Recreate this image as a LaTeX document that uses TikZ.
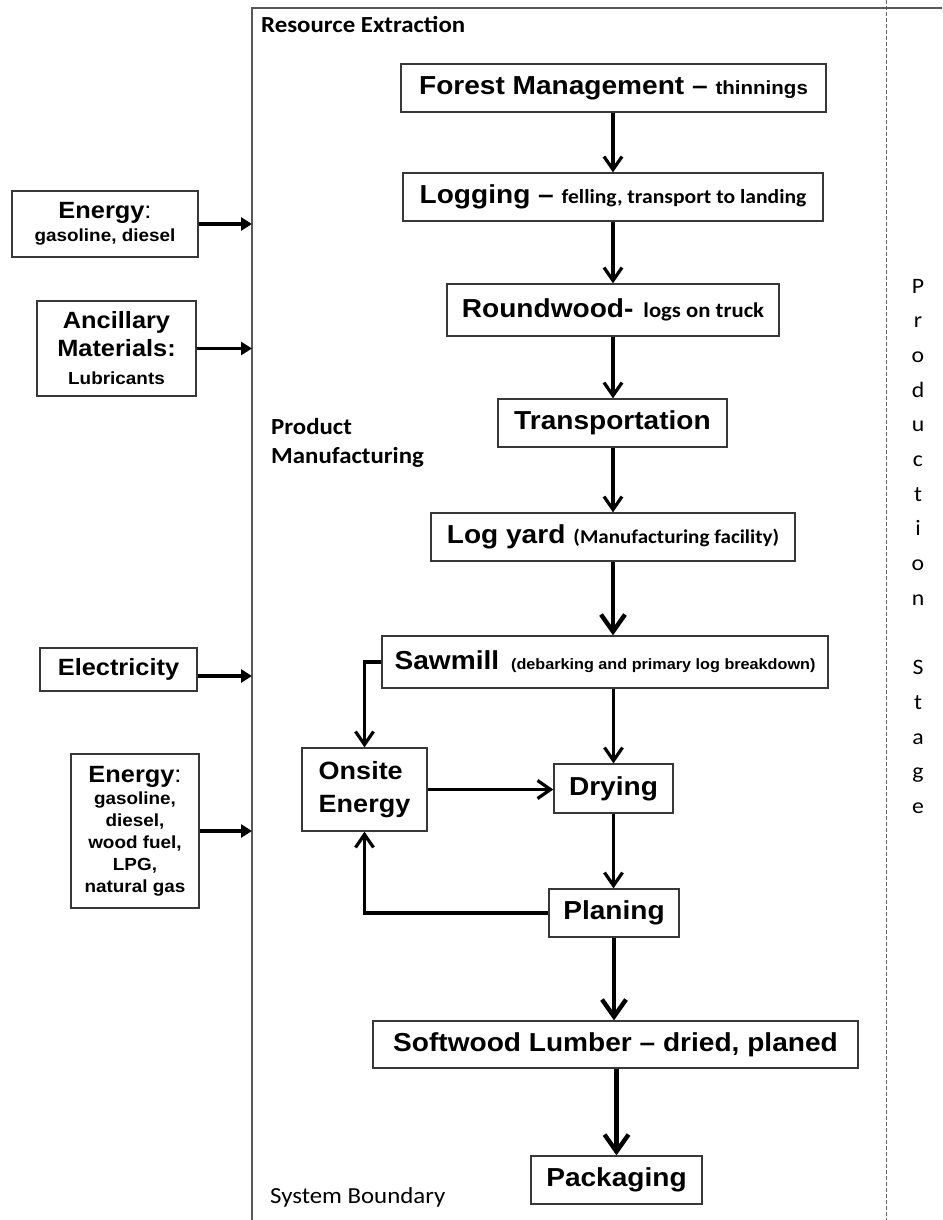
\documentclass[tikz,border=0pt]{standalone}
\usepackage{fontspec}
\setmainfont{Liberation Sans}[FakeStretch=1.08]
\newfontfamily\calfont{Carlito}[FakeStretch=1.08]
\usetikzlibrary{arrows.meta}
\usetikzlibrary{positioning}
\newcommand\fsz[2]{\fontsize{#1}{#2}\selectfont}
\tikzset{
    stage box/.style={
        draw=black!78,
        line width=1.3pt,
        rectangle,
        inner sep=0pt,
        align=center,
        font=\bfseries\fsz{26}{31},
    },
    flow/.style={
        line width=3.2pt,
        -{Straight Barb[length=13pt,width=18pt]},
    },
    heavy flow/.style={
        line width=4.4pt,
        -{Straight Barb[length=17pt,width=24pt]},
    },
    input arrow/.style={
        line width=3.4pt,
        -{Triangle[length=11pt,width=13pt]},
    },
    boundary line/.style={
        draw=black!65,
        line width=1.5pt,
    },
    stage line/.style={
        draw=black!60,
        line width=1pt,
        dash pattern=on 4pt off 2pt,
    },
}
\begin{document}
\begin{tikzpicture}[x=1pt, y=-1pt]
    \useasboundingbox (0,0) rectangle (942,1220);

    % system boundary and stage divider
    \coordinate (bnd) at (252,8);
    \draw[boundary line] (942,8) -- (bnd) -- (252,1220);
    \draw[stage line] (886,0) -- (886,1220);

    \node[anchor=base west, inner sep=0pt, font=\calfont\bfseries\fsz{23}{28}] (resx) at (261,33) {Resource Extraction};
    \node[anchor=base west, inner sep=0pt, font=\calfont\bfseries\fsz{23}{28}] (prodA) at (271,434) {Product};
    \node[anchor=base west, inner sep=0pt, font=\calfont\bfseries\fsz{23}{28}] (prodB) at (271,463) {Manufacturing};
    \node[anchor=base west, inner sep=0pt, font=\calfont\fsz{23}{28}] (sysb) at (270,1203) {System Boundary};

    \foreach \ch/\k in {P/0,r/1,o/2,d/3,u/4,c/5,t/6,i/7,o/8,n/9,S/11,t/12,a/13,g/14,e/15}
    {
        \node[anchor=base, inner sep=0pt, font=\calfont\fsz{22}{26}] (stage\k) at (918, 293+34.7*\k) {\ch};
    }

    % process chain
    \node[stage box, minimum width=425pt, minimum height=48pt] (forest) at (613.5,88)
        {Forest Management -- \fsz{19}{23}thinnings};
    \node[stage box, minimum width=420pt, minimum height=48pt] (logging) at (613,197)
        {Logging -- {\calfont\fsz{20}{24}felling, transport to landing}};
    \node[stage box, minimum width=332pt, minimum height=52pt] (round) at (613,310)
        {Roundwood-\hspace{10pt}{\calfont\fsz{21}{25}logs on truck}};
    \node[stage box, minimum width=229pt, minimum height=48pt] (transp) at (612.5,423)
        {Transportation};
    \node[stage box, minimum width=364pt, minimum height=48pt] (logyard) at (613,537)
        {Log yard\hspace{8pt}{\calfont\fsz{19.5}{24}(Manufacturing facility)}};
    \node[stage box, minimum width=446pt, minimum height=52pt] (saw) at (605,662)
        {Sawmill\hspace{12pt}\fsz{15}{18}(debarking and primary log breakdown)};
    \node[stage box, minimum width=125pt, minimum height=83pt, align=left, font=\bfseries\fsz{25}{33}] (onsite) at (364.5,789.5)
        {Onsite\\Energy};
    \node[stage box, minimum width=119pt, minimum height=49pt] (dry) at (613.5,788.5)
        {Drying};
    \node[stage box, minimum width=130pt, minimum height=48pt] (plan) at (614,913)
        {Planing};
    \node[stage box, minimum width=485pt, minimum height=47pt] (soft) at (615.5,1044.5)
        {Softwood Lumber -- dried, planed};
    \node[stage box, minimum width=171pt, minimum height=48pt] (pack) at (616.5,1180)
        {Packaging};

    % inputs
    \node[stage box, minimum width=186pt, minimum height=66pt, font=\bfseries\fsz{17.5}{23}] (energyA) at (105,224)
        {{\fsz{23.5}{28}Energy{\mdseries:}}\\gasoline, diesel};
    \node[stage box, minimum width=159pt, minimum height=95pt, font=\bfseries\fsz{23.5}{28}] (ancil) at (116.5,348.5)
        {Ancillary\\Materials:\\{\fsz{17.5}{22}Lubricants}};
    \node[stage box, minimum width=157pt, minimum height=43pt, font=\bfseries\fsz{23.5}{28}] (elec) at (118.5,669.5)
        {Electricity};
    \node[stage box, minimum width=128pt, minimum height=154pt, font=\bfseries\fsz{17.5}{22}] (energyB) at (135,831)
        {{\fsz{23.5}{26}Energy{\mdseries:}}\\gasoline,\\diesel,\\wood fuel,\\LPG,\\natural gas};

    \draw[input arrow] (energyA.east) -- (energyA.east -| bnd);
    \draw[input arrow] (ancil.east) -- (ancil.east -| bnd);
    \draw[input arrow] ([yshift=-6.5pt]elec.east) -- ([yshift=-6.5pt]elec.east -| bnd);
    \draw[input arrow] (energyB.east) -- (energyB.east -| bnd);

    \draw[flow] (logging.north |- forest.south) -- (logging.north);
    \draw[flow] (logging.south) -- (round.north);
    \draw[flow] (round.south) -- (round.south |- transp.north);
    \draw[flow] (round.south |- transp.south) -- (round.south |- logyard.north);
    \draw[heavy flow] (logyard.south) -- (logyard.south |- saw.north);
    \draw[flow] (dry.north |- saw.south) -- (dry.north);
    \draw[flow] (saw.west) -| (onsite.north);
    \draw[flow] (onsite.east) -- (onsite.east -| dry.west);
    \draw[flow] (dry.south) -- (dry.south |- plan.north);
    \draw[flow] (plan.west) -| (onsite.south);
    \draw[heavy flow] (plan.south) -- (plan.south |- soft.north);
    \draw[heavy flow] (soft.south -| pack.north) -- (pack.north);

\end{tikzpicture}
\end{document}
